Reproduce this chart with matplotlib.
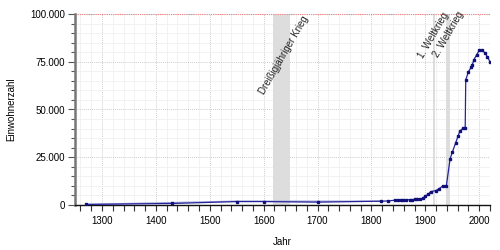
import matplotlib
matplotlib.use("Agg")
import matplotlib.pyplot as plt
from matplotlib.ticker import MultipleLocator, FuncFormatter

plt.rcParams["font.family"] = ["Liberation Sans", "DejaVu Sans"]
plt.rcParams["font.size"] = 7

# population (Einwohnerzahl) per year
years = [1270, 1430, 1550, 1600, 1700, 1818, 1830, 1843, 1849, 1855,
         1858, 1864, 1871, 1875, 1880, 1885, 1890, 1895, 1900, 1905,
         1910, 1919, 1925, 1933, 1939, 1946, 1950, 1956, 1961, 1964,
         1970, 1974, 1975, 1980, 1985, 1987, 1990, 1995, 2000, 2005,
         2010, 2015, 2020]
population = [300, 800, 1800, 1800, 1500, 2000, 2100, 2500, 2600, 2600,
              2700, 2700, 2800, 2800, 2900, 2900, 3000, 3500, 4600, 5600,
              7000, 7500, 8400, 10100, 10100, 24200, 27600, 32300, 36300, 38700,
              40200, 40500, 65500, 69800, 72000, 73300, 76000, 78500, 81000, 81200,
              79800, 77700, 75000]

# sparse early estimate drawn as a faint line
early_years = [1270, 1550, 1818]
early_population = [300, 2000, 2000]

# historical periods (shaded bands)
periods = [(1618, 1648, "Dreißigjähriger Krieg"),
           (1914, 1918, "1. Weltkrieg"),
           (1939, 1945, "2. Weltkrieg")]
label_pos = [(1683, 98000), (1944, 99600), (1971, 100200)]

fig = plt.figure(figsize=(5, 2.5), dpi=100)
ax = fig.add_axes([0.15, 0.18, 0.83, 0.764])

ax.set_xlim(1250, 2020)
ax.set_ylim(0, 100000)

# grid
ax.xaxis.set_major_locator(MultipleLocator(100))
ax.xaxis.set_minor_locator(MultipleLocator(20))
ax.yaxis.set_major_locator(MultipleLocator(25000))
ax.yaxis.set_minor_locator(MultipleLocator(5000))
ax.grid(which="minor", color="#f0f0f0", lw=0.6, zorder=0)
ax.grid(which="major", color="#bbbbbb", lw=0.6, ls=(0, (1, 1.5)), zorder=0)
ax.set_axisbelow(True)

for (start, end, name), (lx, ly) in zip(periods, label_pos):
    ax.axvspan(start, end, color="#dddddd", lw=0, zorder=1)
    ax.text(lx, ly, name, rotation=60, rotation_mode="anchor",
            ha="right", va="baseline", fontsize=7, color="#222222", zorder=5)

ax.axhline(100000, color="#f08080", lw=0.8, ls=(0, (1, 1)), zorder=2, clip_on=False)

ax.plot(early_years, early_population, color="#a8a8dc", lw=1.0, zorder=3)
ax.plot(years, population, color="#25259a", lw=0.9, marker="s", ms=1.6,
        mec="#10107a", mfc="#10107a", zorder=4)

ax.yaxis.set_major_formatter(FuncFormatter(lambda v, p: f"{v:,.0f}".replace(",", ".")))

for s in ["top", "right"]:
    ax.spines[s].set_visible(False)
ax.spines["left"].set_color("#777777")
ax.spines["left"].set_linewidth(1.8)
ax.spines["bottom"].set_color("#111111")
ax.spines["bottom"].set_linewidth(1.0)

ax.tick_params(axis="y", which="major", length=5, width=0.8, color="#555555", labelsize=7, pad=2)
ax.tick_params(axis="y", which="minor", length=3, width=0.8, color="#555555")
ax.tick_params(axis="x", which="both", length=4, width=0.8, color="#333333", labelsize=7, pad=4)

ax.set_xlabel("Jahr", fontsize=7, labelpad=8)
ax.set_ylabel("Einwohnerzahl", fontsize=7, labelpad=10)

fig.savefig("out.png", dpi=100)
